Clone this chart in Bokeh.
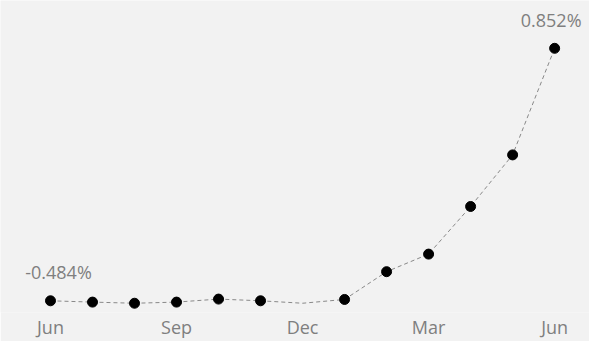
from bokeh.plotting import figure
from bokeh.models import Range1d, FixedTicker
from bokeh.core.properties import value
from bokeh.embed import file_html
from bokeh.resources import INLINE

# Monthly series, June to June (values in percent)
months = ["Jun", "Jul", "Aug", "Sep", "Oct", "Nov", "Dec",
          "Jan", "Feb", "Mar", "Apr", "May", "Jun"]
values = [-0.484, -0.491, -0.497, -0.491, -0.475, -0.484, -0.497,
          -0.477, -0.330, -0.237, 0.015, 0.288, 0.852]
# December has no marker on the line
marked = [True, True, True, True, True, True, False,
          True, True, True, True, True, True]
tick_idx = [0, 3, 6, 9, 12]

BG = "#f2f2f2"
GREY = "#7f7f7f"
FONT = "Open Sans"

x = list(range(len(months)))

p = figure(width=589, height=341, output_backend="svg", toolbar_location=None,
           x_range=Range1d(-1.19, 12.83), y_range=Range1d(-0.546, 1.105),
           min_border_left=0, min_border_right=0, min_border_top=0,
           min_border_bottom=0)
p.background_fill_color = BG
p.border_fill_color = BG
p.outline_line_color = None
p.grid.visible = False
p.yaxis.visible = False

ax = p.xaxis[0]
ax.ticker = FixedTicker(ticks=tick_idx)
ax.major_label_overrides = {i: months[i] for i in tick_idx}
ax.axis_line_color = None
ax.major_tick_line_color = None
ax.minor_tick_line_color = None
ax.major_tick_out = 0
ax.major_tick_in = 0
ax.major_label_standoff = 2
ax.major_label_text_font = FONT
ax.major_label_text_font_size = "18px"
ax.major_label_text_color = GREY

p.line(x, values, line_color="#888888", line_width=1, line_dash="4 3")

mx = [xi for xi, m in zip(x, marked) if m]
my = [v for v, m in zip(values, marked) if m]
p.scatter(mx, my, size=10, fill_color="black", line_color="black")

# Value labels on the first and last points
p.text([x[0]], [values[0]], text=[f"{values[0]:.3f}%"], x_offset=8, y_offset=-29,
       text_align="center", text_baseline="middle", text_color=GREY,
       text_font=value(FONT), text_font_size="18px")
p.text([x[-1]], [values[-1]], text=[f"{values[-1]:.3f}%"], x_offset=-3.5, y_offset=-28,
       text_align="center", text_baseline="middle", text_color=GREY,
       text_font=value(FONT), text_font_size="18px")

open("out.html", "w").write(file_html(p, INLINE))
